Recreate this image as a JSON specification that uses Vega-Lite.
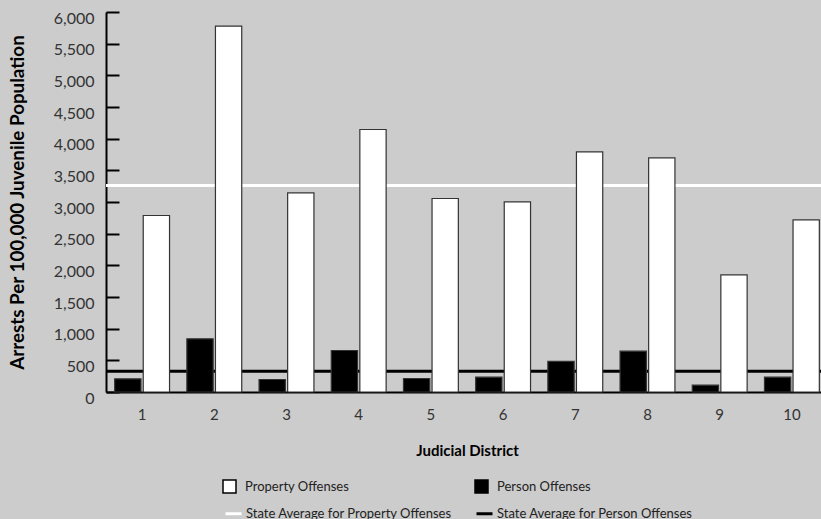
{
  "$schema": "https://vega.github.io/schema/vega-lite/v6.json",
  "width": 715,
  "height": 380,
  "autosize": {"type": "none"},
  "padding": {"left": 106, "top": 12, "right": 0, "bottom": 127},
  "background": "#cccccc",
  "config": {"view": {"stroke": null}, "font": "Lato"},
  "layer": [
    {
      "data": {"values": [
        {"series": "State Average for Property Offenses", "value": 3261},
        {"series": "State Average for Person Offenses", "value": 329}
      ]},
      "mark": {"type": "rule", "strokeWidth": 3},
      "encoding": {
        "y": {
          "field": "value", "type": "quantitative",
          "scale": {"domain": [0, 6000], "nice": false},
          "axis": {
            "title": "Arrests Per 100,000 Juvenile Population",
            "tickCount": 12,
            "format": ",d", "grid": false, "labelOverlap": false,
            "domainColor": "#000000", "domainWidth": 2,
            "tickColor": "#000000", "tickWidth": 2, "tickSize": -13,
            "labelFont": "Lato", "labelFontSize": 16, "labelColor": "#333333", "labelPadding": 25, "labelOffset": 6,
            "titleFont": "Lato", "titleFontSize": 18.8, "titleFontWeight": "bold", "titleColor": "#000000", "titlePadding": 26
          }
        },
        "stroke": {
          "field": "series", "type": "nominal",
          "scale": {"domain": ["State Average for Property Offenses", "State Average for Person Offenses"], "range": ["#ffffff", "#000000"]},
          "legend": {
            "title": null, "orient": "none", "legendX": 118, "legendY": 492,
            "direction": "horizontal", "columns": 2, "columnPadding": 17, "padding": 0,
            "symbolType": "stroke", "symbolSize": 256, "symbolStrokeWidth": 3,
            "labelFont": "Lato", "labelFontSize": 13, "labelColor": "#222222", "labelOffset": 3, "labelLimit": 400
          }
        }
      }
    },
    {
      "data": {"values": [
        {"district": "1", "type": "Property Offenses", "value": 2787},
        {"district": "1", "type": "Person Offenses", "value": 208},
        {"district": "2", "type": "Property Offenses", "value": 5776},
        {"district": "2", "type": "Person Offenses", "value": 840},
        {"district": "3", "type": "Property Offenses", "value": 3145},
        {"district": "3", "type": "Person Offenses", "value": 197},
        {"district": "4", "type": "Property Offenses", "value": 4145},
        {"district": "4", "type": "Person Offenses", "value": 655},
        {"district": "5", "type": "Property Offenses", "value": 3055},
        {"district": "5", "type": "Person Offenses", "value": 213},
        {"district": "6", "type": "Property Offenses", "value": 3003},
        {"district": "6", "type": "Person Offenses", "value": 234},
        {"district": "7", "type": "Property Offenses", "value": 3793},
        {"district": "7", "type": "Person Offenses", "value": 482},
        {"district": "8", "type": "Property Offenses", "value": 3698},
        {"district": "8", "type": "Person Offenses", "value": 644},
        {"district": "9", "type": "Property Offenses", "value": 1850},
        {"district": "9", "type": "Person Offenses", "value": 108},
        {"district": "10", "type": "Property Offenses", "value": 2719},
        {"district": "10", "type": "Person Offenses", "value": 234}
      ]},
      "mark": {"type": "bar", "stroke": "#333333", "strokeWidth": 1.2},
      "encoding": {
        "x": {
          "field": "district", "type": "ordinal",
          "sort": ["1","2","3","4","5","6","7","8","9","10"],
          "scale": {"range": [0, 722], "paddingInner": 0.24, "paddingOuter": 0.12},
          "axis": {
            "title": "Judicial District", "labelAngle": 0, "ticks": false,
            "domainColor": "#000000", "domainWidth": 2,
            "labelFont": "Lato", "labelFontSize": 15, "labelColor": "#333333", "labelPadding": 15,
            "titleFont": "Lato", "titleFontSize": 15, "titleFontWeight": "bold", "titleColor": "#000000", "titlePadding": 21
          }
        },
        "xOffset": {"field": "type", "type": "nominal", "sort": ["Person Offenses", "Property Offenses"], "scale": {"paddingInner": 0.08}},
        "y": {
          "field": "value", "type": "quantitative",
          "axis": {
            "title": "Arrests Per 100,000 Juvenile Population",
            "tickCount": 12,
            "format": ",d", "grid": false, "labelOverlap": false,
            "domainColor": "#000000", "domainWidth": 2,
            "tickColor": "#000000", "tickWidth": 2, "tickSize": -13,
            "labelFont": "Lato", "labelFontSize": 16, "labelColor": "#333333", "labelPadding": 25, "labelOffset": 6,
            "titleFont": "Lato", "titleFontSize": 18.8, "titleFontWeight": "bold", "titleColor": "#000000", "titlePadding": 26
          }
        },
        "fill": {
          "field": "type", "type": "nominal",
          "scale": {"domain": ["Property Offenses", "Person Offenses"], "range": ["#ffffff", "#000000"]},
          "legend": {
            "title": null, "orient": "none", "legendX": 116, "legendY": 467,
            "direction": "horizontal", "columns": 2, "columnPadding": 122, "padding": 0,
            "symbolType": "square", "symbolSize": 169, "symbolStrokeColor": "#000000", "symbolStrokeWidth": 1.5,
            "labelFont": "Lato", "labelFontSize": 13, "labelColor": "#222222", "labelOffset": 8, "labelLimit": 400
          }
        }
      }
    },
    {
      "mark": {"type": "rule", "color": "#000000", "strokeWidth": 2},
      "encoding": {"y": {"datum": 6000}}
    }
  ]
}
